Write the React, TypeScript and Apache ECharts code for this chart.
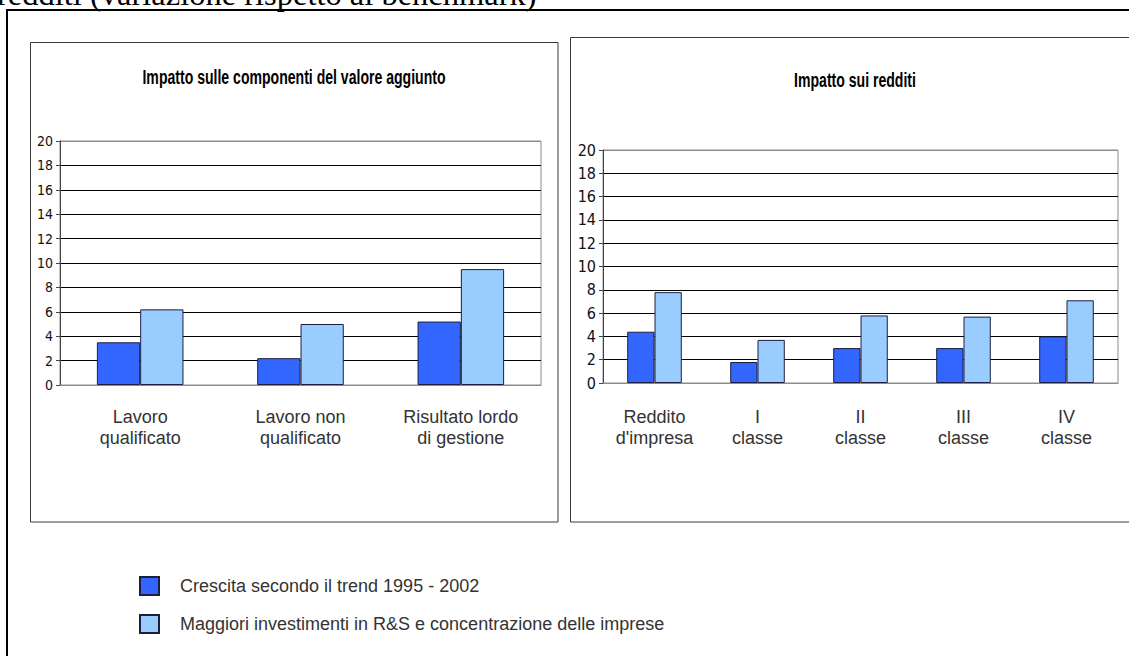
import React, { useEffect, useRef } from "react";
import * as echarts from "echarts";

// Series names shared by both panels
const seriesNames = [
  "Crescita secondo il trend 1995 - 2002",
  "Maggiori investimenti in R&S e concentrazione delle imprese",
];

// Left panel: components of value added
const valueAddedCategories = [
  "Lavoro\nqualificato",
  "Lavoro non\nqualificato",
  "Risultato lordo\ndi gestione",
];
const valueAddedTrend = [3.5, 2.2, 5.2];
const valueAddedRnD = [6.2, 5.0, 9.5];

// Right panel: incomes
const incomeCategories = [
  "Reddito\nd'impresa",
  "I\nclasse",
  "II\nclasse",
  "III\nclasse",
  "IV\nclasse",
];
const incomeTrend = [4.4, 1.8, 3.0, 3.0, 4.0];
const incomeRnD = [7.8, 3.7, 5.8, 5.7, 7.1];

// Value axis
const axisMin = 0;
const axisMax = 20;
const axisStep = 2;

const panelTitles = [
  "Impatto sulle componenti del valore aggiunto",
  "Impatto sui redditi",
];
const headingText = "redditi (variazione rispetto ai benchmark)";

const DARK = "#3366FF";
const LIGHT = "#99CCFF";
const BAR_EDGE = "#1e1e40";
const SANS = "'Liberation Sans', Arial, sans-serif";
const NARROW = "'Liberation Sans Narrow', 'DejaVu Sans Condensed', 'Liberation Sans', sans-serif";

// gray for the plot border at both ends, black for the inner gridlines
const lineCount = (axisMax - axisMin) / axisStep + 1;
const splitColors: string[] = [];
for (let i = 0; i < lineCount; i++) {
  splitColors.push(i === 0 || i === lineCount - 1 ? "#8c8c8c" : "#000000");
}

function valueAxis(gridIndex: number, fontSize: number) {
  return {
    type: "value",
    gridIndex,
    min: axisMin,
    max: axisMax,
    interval: axisStep,
    axisLine: { show: true, lineStyle: { color: "#444", width: 1 } },
    axisTick: { show: true, length: 4, inside: false, lineStyle: { color: "#444" } },
    axisLabel: {
      margin: 7,
      fontFamily: NARROW,
      fontSize,
      color: "#111",
    },
    splitLine: { show: true, lineStyle: { color: splitColors, width: 1 } },
  };
}

function categoryAxis(gridIndex: number, data: string[], margin: number) {
  return {
    type: "category",
    gridIndex,
    data,
    axisLine: { show: true, lineStyle: { color: "#8c8c8c", width: 1 } },
    axisTick: { show: false },
    axisLabel: {
      interval: 0,
      margin,
      fontFamily: SANS,
      fontSize: 18,
      lineHeight: 21,
      color: "#333",
    },
  };
}

function barSeries(name: string, color: string, axisIndex: number, data: number[], gap: string) {
  return {
    type: "bar",
    name,
    xAxisIndex: axisIndex,
    yAxisIndex: axisIndex,
    data,
    barGap: "0%",
    barCategoryGap: gap,
    itemStyle: { color, borderColor: BAR_EDGE, borderWidth: 1 },
  };
}

// condensed bold heading for each panel
function panelTitle(text: string, x: number, y: number) {
  return {
    type: "text",
    x,
    y,
    z: 1,
    scaleX: 0.67,
    style: {
      text,
      font: "bold 21px " + SANS,
      fill: "#000",
      align: "center",
      verticalAlign: "middle",
    },
  };
}

export default function App() {
  const ref = useRef<HTMLDivElement>(null);

  useEffect(() => {
    if (!ref.current) return;
    const chart = echarts.init(ref.current, null, { renderer: "svg" });
    chart.setOption({
      animation: false,
      backgroundColor: "#ffffff",
      grid: [
        { left: 60, top: 141, width: 481, height: 244, show: true, borderColor: "#8c8c8c", borderWidth: 1 },
        { left: 603, top: 150, width: 515, height: 233, show: true, borderColor: "#8c8c8c", borderWidth: 1 },
      ],
      xAxis: [
        categoryAxis(0, valueAddedCategories, 21),
        categoryAxis(1, incomeCategories, 23),
      ],
      yAxis: [valueAxis(0, 14), valueAxis(1, 16)],
      legend: {
        orient: "vertical",
        left: 139,
        top: 576,
        padding: 0,
        itemWidth: 19,
        itemHeight: 18,
        itemGap: 18,
        icon: "rect",
        data: seriesNames,
        textStyle: {
          fontFamily: SANS,
          fontSize: 18,
          color: "#333",
          padding: [0, 0, 0, 16],
        },
      },
      series: [
        barSeries(seriesNames[0], DARK, 0, valueAddedTrend, "46%"),
        barSeries(seriesNames[1], LIGHT, 0, valueAddedRnD, "46%"),
        barSeries(seriesNames[0], DARK, 1, incomeTrend, "47%"),
        barSeries(seriesNames[1], LIGHT, 1, incomeRnD, "47%"),
      ],
      graphic: [
        // page heading, running above the top edge
        {
          type: "text",
          x: -3,
          y: -6,
          z: 1,
          style: {
            text: headingText,
            font: "32.5px 'Liberation Serif', 'Times New Roman', serif",
            fill: "#000",
            align: "left",
            verticalAlign: "middle",
          },
        },
        // outer frame
        {
          type: "rect",
          z: 1,
          shape: { x: 7, y: 10, width: 1200, height: 700 },
          style: { fill: "none", stroke: "#000", lineWidth: 2 },
        },
        // panel boxes
        {
          type: "rect",
          z: 1,
          shape: { x: 30.5, y: 42.5, width: 527.5, height: 479.5 },
          style: { fill: "none", stroke: "#3a3a3a", lineWidth: 1 },
        },
        {
          type: "rect",
          z: 1,
          shape: { x: 570.5, y: 37.5, width: 600, height: 484.5 },
          style: { fill: "none", stroke: "#3a3a3a", lineWidth: 1 },
        },
        panelTitle(panelTitles[0], 294, 77),
        panelTitle(panelTitles[1], 855, 80),
      ],
    });
    return () => chart.dispose();
  }, []);

  return (
    <div
      ref={ref}
      style={{ position: "absolute", left: 0, top: 0, width: 1129, height: 656 }}
    />
  );
}
